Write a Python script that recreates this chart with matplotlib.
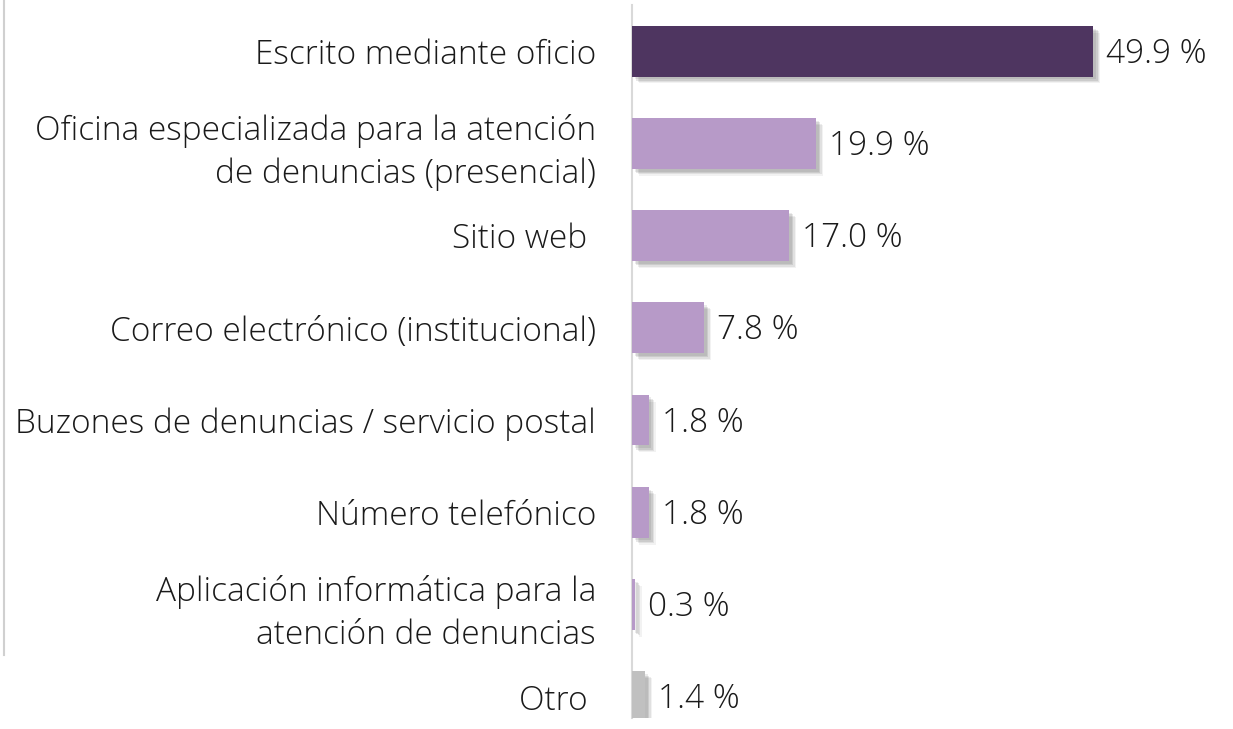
import matplotlib
matplotlib.use('Agg')
import matplotlib.pyplot as plt
import matplotlib.patheffects as pe
from matplotlib.lines import Line2D

categories = ['Escrito mediante oficio',
              'Oficina especializada para la atención\nde denuncias (presencial)',
              'Sitio web ',
              'Correo electrónico (institucional)',
              'Buzones de denuncias / servicio postal',
              'Número telefónico',
              'Aplicación informática para la\natención de denuncias',
              'Otro ']
values = [49.9, 19.9, 17.0, 7.8, 1.8, 1.8, 0.3, 1.4]
value_labels = ['49.9 %', '19.9 %', '17.0 %', '7.8 %', '1.8 %', '1.8 %', '0.3 %', '1.4 %']

DARK = '#4E3560'
LIGHT = '#B79AC8'
GRAY = '#C0C0C0'
colors = [DARK] + [LIGHT] * 6 + [GRAY]

plt.rcParams['font.family'] = ['Open Sans', 'DejaVu Sans']

fig = plt.figure(figsize=(12.33, 7.29), dpi=100)
ax = fig.add_axes([0.5126, 0.0151, 0.4874, 0.978])

# soft drop shadow built from a few offset layers
shadow = [pe.SimplePatchShadow(offset=(d, -d), shadow_rgbFace='black', alpha=a)
          for d, a in [(5, 0.05), (4, 0.07), (3, 0.09), (2, 0.08)]] + [pe.Normal()]

ypos = list(range(len(categories)))
bars = ax.barh(ypos, values, height=0.55, color=colors, zorder=3)
for b in bars:
    b.set_path_effects(shadow)

for y, v, lab in zip(ypos, values, value_labels):
    ax.text(v + 1.4, y + 0.03, lab, va='center', ha='left', fontsize=24,
            color='#1a1a1a', fontweight='light')

ax.set_xlim(0, 65)
ax.set_ylim(7.23, -0.5)
ax.set_yticks(ypos)
ax.set_yticklabels(categories, fontsize=24, color='#1a1a1a', fontweight='light',
                   linespacing=1.4)
ax.tick_params(axis='y', length=0, pad=26)
ax.set_xticks([])
for s in ['top', 'right', 'bottom']:
    ax.spines[s].set_visible(False)
ax.spines['left'].set_color('#D9D9D9')
ax.spines['left'].set_linewidth(1.5)

# thin frame line at far left of the slide
fig.add_artist(Line2D([0.0035, 0.0035], [1.0, 1 - 655 / 729], color='#D0D0D0',
                      lw=1.5, transform=fig.transFigure))

fig.savefig('out.png', dpi=100, facecolor='white')
